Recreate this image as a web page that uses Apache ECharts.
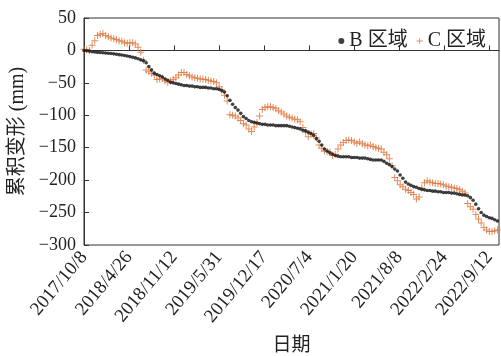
<!DOCTYPE html>
<html>
<head>
<meta charset="utf-8">
<script src="https://cdn.jsdelivr.net/npm/echarts@6/dist/echarts.min.js"></script>
<style>
html,body{margin:0;padding:0;background:#fff;}
#chart{width:501px;height:356px;}
</style>
</head>
<body>
<div id="chart"></div>
<script>
// x tick labels (every 200 days from 2017/10/8)
const xTickLabels = ['2017/10/8','2018/4/26','2018/11/12','2019/5/31','2019/12/17','2020/7/4','2021/1/20','2021/8/8','2022/2/24','2022/9/12'];
const tickStepDays = 200;
const revisitDays = 12;   // acquisition interval, days after 2017/10/8
const seriesNames = ['B 区域', 'C 区域'];

const valuesB = [
  0,-0.5,-1,-2,-2.5,-3,-3.3,-3.6,-4,-4.4,
  -4.8,-5.3,-5.8,-6.5,-7,-7.8,-8.6,-9.5,-10.5,-11.5,
  -12.8,-14.5,-16,-19,-25,-30,-35,-37,-39,-41,
  -44,-46,-49,-50,-51,-52,-53,-54,-54,-55,
  -55,-56,-56,-57,-57,-57,-58,-58,-59,-59,
  -60,-62,-64,-70,-77,-83,-88,-92,-97,-102,
  -105,-108,-110,-111,-112,-113,-114,-114,-115,-115,
  -115,-116,-116,-116,-116,-116,-117,-118,-119,-120,
  -121,-123,-124,-126,-128,-131,-136,-140,-146,-152,
  -155,-158,-160,-162,-163,-164,-164,-164,-164,-165,
  -165,-165,-166,-166,-166,-167,-168,-169,-169,-169,
  -169,-171,-174,-176,-179,-183,-186,-192,-197,-203,
  -206,-208,-210,-211,-213,-214,-215,-216,-216,-217,
  -217,-218,-218,-219,-219,-219,-220,-220,-221,-222,
  -223,-223,-224,-227,-231,-237,-244,-250,-254,-256,
  -258,-259,-261,-263
];
const valuesC = [
  2,1,0,8,15,23,25,26,23,21,
  19,18,17,15,14,12,11,12,12,10,
  5,-3,-15,-30,-33,-35,-38,-45,-44,-43,
  -47,-49,-47,-45,-42,-38,-34,-34,-37,-39,
  -41,-42,-43,-44,-44,-45,-46,-47,-48,-50,
  -56,-61,-69,-78,-99,-100,-101,-104,-108,-113,
  -115,-121,-125,-118,-111,-101,-91,-88,-87,-87,
  -88,-90,-93,-95,-98,-101,-103,-104,-106,-107,
  -110,-119,-126,-133,-129,-128,-135,-146,-151,-155,
  -156,-157,-162,-160,-152,-146,-142,-139,-138,-139,
  -141,-143,-141,-144,-146,-147,-146,-148,-150,-151,
  -152,-157,-161,-167,-178,-196,-201,-207,-210,-214,
  -216,-219,-222,-229,-226,-212,-204,-201,-203,-204,
  -205,-205,-206,-207,-209,-210,-211,-212,-213,-215,
  -217,-220,-236,-241,-245,-253,-260,-266,-273,-277,
  -279,-279,-278,-277
];

const serif = '"Liberation Serif","Times New Roman","Noto Sans CJK SC",serif';
const plusPath = 'path://M3,0 H4 V3 H7 V4 H4 V7 H3 V4 H0 V3 H3 Z';
const toPairs = vals => vals.map((v, i) => [i * revisitDays, v]);
const minusFmt = v => v < 0 ? '\u2212' + Math.abs(v) : String(v);

const chart = echarts.init(document.getElementById('chart'));
chart.setOption({
  animation: false,
  backgroundColor: '#fff',
  grid: {left: 84, right: 2, top: 18, bottom: 111, show: true, borderColor: '#333', borderWidth: 1,
         containLabel: false, outerBoundsMode: 'none'},
  legend: {
    right: 10, top: 26, itemWidth: 6, itemHeight: 6, itemGap: 9,
    textStyle: {fontFamily: serif, fontSize: 20, color: '#222'},
    data: [
      {name: seriesNames[0], icon: 'circle', itemStyle: {color: '#111'}},
      {name: seriesNames[1], icon: plusPath, itemStyle: {color: '#e0773e'}}
    ]
  },
  xAxis: {
    type: 'value', min: 0, max: 1843, interval: tickStepDays,
    name: '日期', nameLocation: 'middle', nameGap: 92,
    nameTextStyle: {fontFamily: serif, fontSize: 19, color: '#222'},
    axisLine: {lineStyle: {color: '#333'}},
    axisTick: {inside: true, length: 5, lineStyle: {color: '#333'}},
    splitLine: {show: false},
    axisLabel: {
      rotate: 50, margin: 9, fontFamily: serif, fontSize: 19, color: '#222',
      showMaxLabel: false, hideOverlap: false,
      formatter: v => (v % tickStepDays === 0 && xTickLabels[v / tickStepDays]) ? xTickLabels[v / tickStepDays] : ''
    }
  },
  yAxis: {
    type: 'value', min: -300, max: 50, interval: 50,
    name: '累积变形 (mm)', nameLocation: 'middle', nameGap: 56,
    nameTextStyle: {fontFamily: serif, fontSize: 20, color: '#222'},
    axisLine: {show: true, lineStyle: {color: '#333'}},
    axisTick: {show: true, inside: true, length: 5, lineStyle: {color: '#333'}},
    splitLine: {show: false},
    axisLabel: {margin: 8, fontFamily: serif, fontSize: 18, color: '#222', formatter: minusFmt}
  },
  series: [
    {
      name: seriesNames[0], type: 'scatter', data: toPairs(valuesB),
      symbol: 'circle', symbolSize: 3.6, itemStyle: {color: '#111'}, z: 3
    },
    {
      name: seriesNames[1], type: 'scatter', data: toPairs(valuesC),
      symbol: plusPath, symbolSize: 7, itemStyle: {color: '#e0773e', opacity: 0.85}, z: 2
    }
  ]
});
</script>
</body>
</html>
